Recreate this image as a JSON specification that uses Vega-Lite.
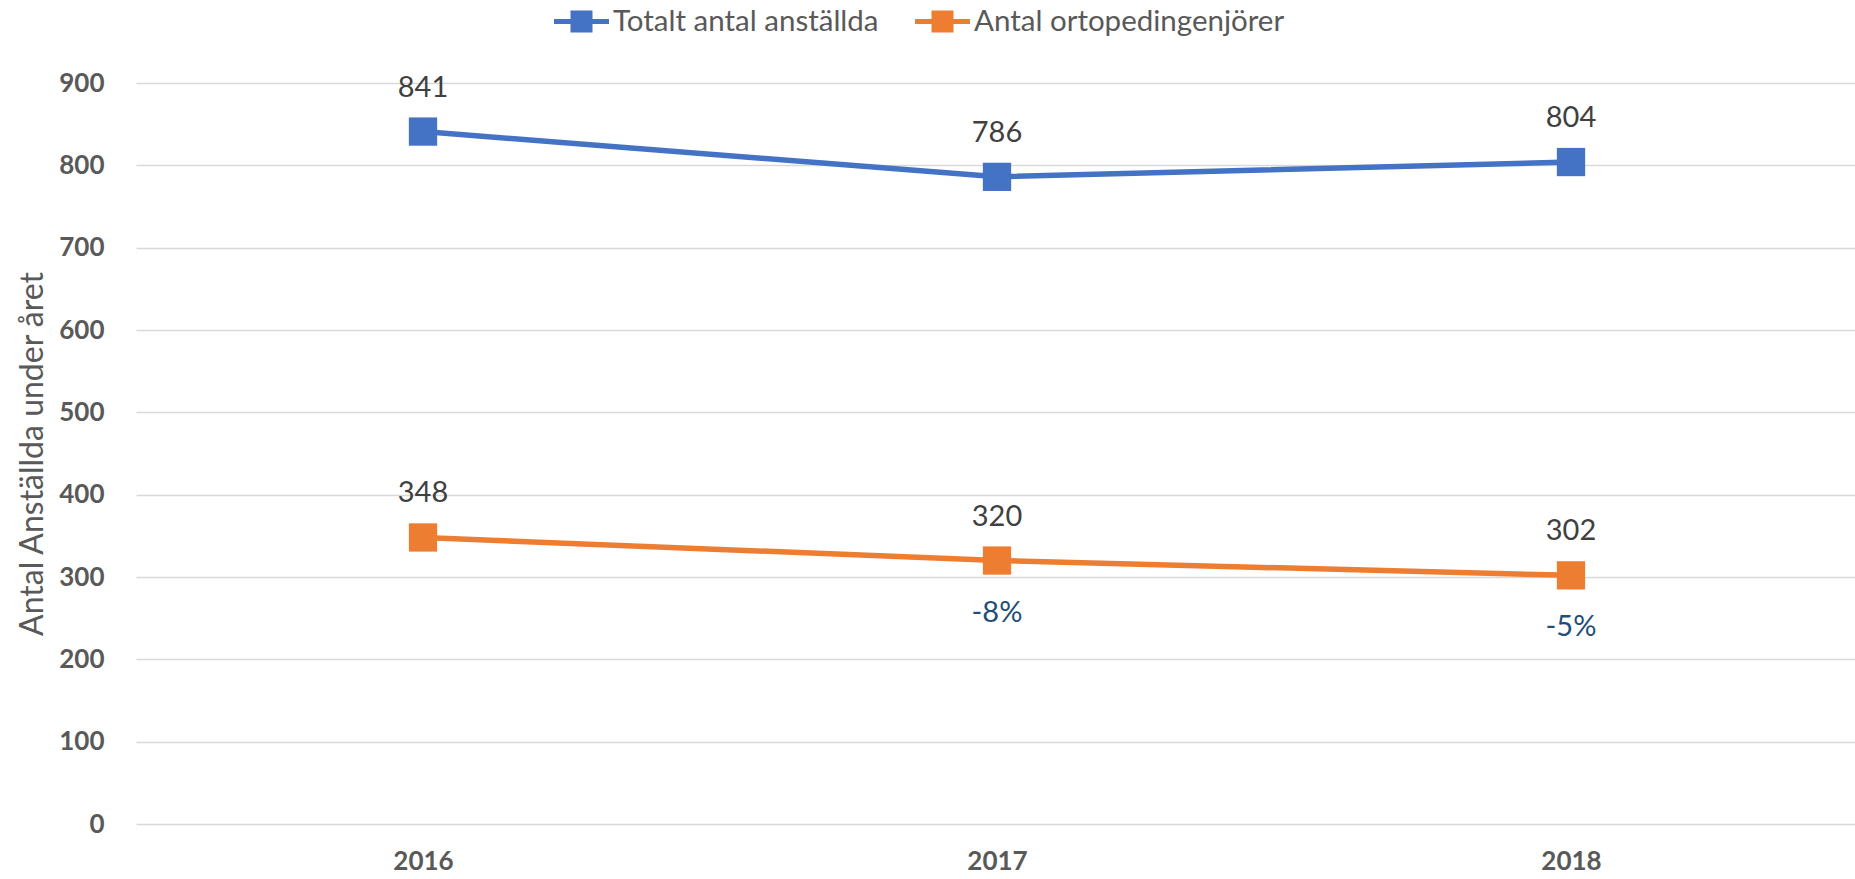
{
  "$schema": "https://vega.github.io/schema/vega-lite/v6.json",
  "width": 1722,
  "height": 741,
  "autosize": {"type": "none"},
  "padding": {"left": 136, "top": 83, "right": 0, "bottom": 55},
  "config": {"view": {"stroke": null}, "font": "Lato"},
  "data": {
    "values": [
      {"year": "2016", "series": "Totalt antal anställda", "value": 841, "change": null},
      {"year": "2017", "series": "Totalt antal anställda", "value": 786, "change": null},
      {"year": "2018", "series": "Totalt antal anställda", "value": 804, "change": null},
      {"year": "2016", "series": "Antal ortopedingenjörer", "value": 348, "change": null},
      {"year": "2017", "series": "Antal ortopedingenjörer", "value": 320, "change": "-8%"},
      {"year": "2018", "series": "Antal ortopedingenjörer", "value": 302, "change": "-5%"}
    ]
  },
  "encoding": {
    "x": {
      "field": "year", "type": "ordinal",
      "scale": {"type": "point", "padding": 0.5},
      "axis": {"title": null, "labelAngle": 0, "ticks": false, "domain": false, "labelFontWeight": "bold", "labelFontSize": 26, "labelColor": "#595959", "labelPadding": 24}
    },
    "y": {
      "field": "value", "type": "quantitative",
      "scale": {"domain": [0, 900]},
      "axis": {"values": [0, 100, 200, 300, 400, 500, 600, 700, 800, 900], "ticks": false, "domain": false, "labelFontWeight": "bold", "labelFontSize": 26, "labelColor": "#595959", "labelPadding": 32, "gridColor": "#D9D9D9", "gridWidth": 1.5, "title": "Antal Anställda under året", "titleFontSize": 32, "titleFontWeight": "normal", "titleColor": "#595959", "titlePadding": 9}
    }
  },
  "layer": [
    {
      "mark": {"type": "line", "strokeWidth": 5.5},
      "encoding": {
        "color": {
          "field": "series", "type": "nominal",
          "scale": {"domain": ["Totalt antal anställda", "Antal ortopedingenjörer"], "range": ["#4472C4", "#ED7D31"]},
          "legend": {"orient": "none", "legendX": 418, "legendY": -89, "direction": "horizontal", "title": null, "labelFontSize": 29.5, "labelLimit": 0, "labelColor": "#595959", "symbolType": "M -1 -0.09 L 1 -0.09 L 1 0.09 L -1 0.09 Z M -0.4 -0.4 L 0.4 -0.4 L 0.4 0.4 L -0.4 0.4 Z", "symbolSize": 3025, "symbolStrokeWidth": 0, "symbolOpacity": 1, "columnPadding": 36, "labelOffset": 4, "labelBaseline": "middle"}
        }
      }
    },
    {
      "mark": {"type": "point", "shape": "square", "filled": true, "size": 800, "opacity": 1},
      "encoding": {
        "color": {"field": "series", "type": "nominal", "legend": {"orient": "none", "legendX": 418, "legendY": -89, "direction": "horizontal", "title": null, "labelFontSize": 29.5, "labelLimit": 0, "labelColor": "#595959", "symbolType": "M -1 -0.09 L 1 -0.09 L 1 0.09 L -1 0.09 Z M -0.4 -0.4 L 0.4 -0.4 L 0.4 0.4 L -0.4 0.4 Z", "symbolSize": 3025, "symbolStrokeWidth": 0, "symbolOpacity": 1, "columnPadding": 36, "labelOffset": 4, "labelBaseline": "middle"}}
      }
    },
    {
      "mark": {"type": "text", "dy": -44, "fontSize": 29, "color": "#404040"},
      "encoding": {"text": {"field": "value", "type": "quantitative"}}
    },
    {
      "transform": [{"filter": "datum.change != null"}],
      "mark": {"type": "text", "dy": 52, "fontSize": 29, "color": "#1F4E79"},
      "encoding": {"text": {"field": "change", "type": "nominal"}}
    }
  ]
}
